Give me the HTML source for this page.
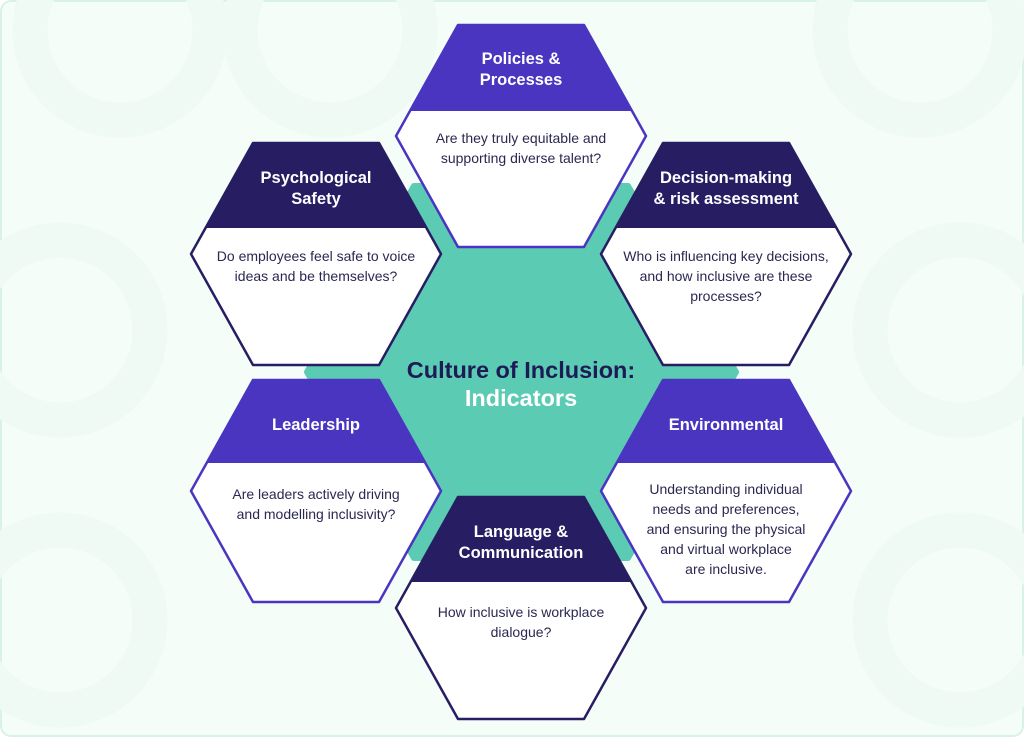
<!DOCTYPE html>
<html><head><meta charset="utf-8"><style>
html,body{margin:0;padding:0;background:#fff;}
svg{display:block;}
text{font-family:"Liberation Sans",sans-serif;}
.h{fill:#fff;font-weight:bold;font-size:16.5px;text-anchor:middle;}
.b{fill:#2a2850;font-size:14px;text-anchor:middle;}
</style></head><body>
<svg width="1024" height="737" viewBox="0 0 1024 737" xmlns="http://www.w3.org/2000/svg">
<rect x="1" y="1" width="1022" height="735" rx="10" fill="#f5fdf8" stroke="#d9f2e8" stroke-width="2"/>
<g fill="none" stroke="#eefaf3" stroke-width="35">
<circle cx="120" cy="30" r="90"/><circle cx="330" cy="30" r="90"/><circle cx="920" cy="30" r="90"/>
<circle cx="60" cy="330" r="90"/><circle cx="960" cy="330" r="90"/><circle cx="60" cy="620" r="90"/><circle cx="960" cy="620" r="90"/>
</g>
<path d="M307,372 L414,186 L628,186 L736,372 L628,558 L414,558 Z" fill="#5ccbb3" stroke="#5ccbb3" stroke-width="6" stroke-linejoin="round"/>
<text x="521" y="378" style="font-weight:bold;font-size:23.5px;fill:#1d1a55;text-anchor:middle">Culture of Inclusion:</text>
<text x="521" y="406" style="font-weight:bold;font-size:23.5px;fill:#fff;text-anchor:middle">Indicators</text>

<clipPath id="c"><path d="M-63,-111 L63,-111 L125,0 L63,111 L-63,111 L-125,0 Z"/></clipPath>

<g transform="translate(521,136)">
<path d="M-63,-111 L63,-111 L125,0 L63,111 L-63,111 L-125,0 Z" fill="#fff"/>
<rect x="-130" y="-115" width="260" height="90" fill="#4a35c0" clip-path="url(#c)"/>
<path d="M-63,-111 L63,-111 L125,0 L63,111 L-63,111 L-125,0 Z" fill="none" stroke="#4a35c0" stroke-width="2.5" stroke-linejoin="round"/>
<text class="h" y="-72">Policies &amp;</text><text class="h" y="-51">Processes</text>
<text class="b" y="7">Are they truly equitable and</text><text class="b" y="27">supporting diverse talent?</text>
</g>

<g transform="translate(316,254)">
<path d="M-63,-111 L63,-111 L125,0 L63,111 L-63,111 L-125,0 Z" fill="#fff"/>
<rect x="-130" y="-115" width="260" height="89" fill="#271d63" clip-path="url(#c)"/>
<path d="M-63,-111 L63,-111 L125,0 L63,111 L-63,111 L-125,0 Z" fill="none" stroke="#271d63" stroke-width="2.5" stroke-linejoin="round"/>
<text class="h" y="-71">Psychological</text><text class="h" y="-50">Safety</text>
<text class="b" y="7">Do employees feel safe to voice</text><text class="b" y="27">ideas and be themselves?</text>
</g>

<g transform="translate(726,254)">
<path d="M-63,-111 L63,-111 L125,0 L63,111 L-63,111 L-125,0 Z" fill="#fff"/>
<rect x="-130" y="-115" width="260" height="89" fill="#271d63" clip-path="url(#c)"/>
<path d="M-63,-111 L63,-111 L125,0 L63,111 L-63,111 L-125,0 Z" fill="none" stroke="#271d63" stroke-width="2.5" stroke-linejoin="round"/>
<text class="h" y="-71">Decision-making</text><text class="h" y="-50">&amp; risk assessment</text>
<text class="b" y="7">Who is influencing key decisions,</text><text class="b" y="27">and how inclusive are these</text><text class="b" y="47">processes?</text>
</g>

<g transform="translate(316,491)">
<path d="M-63,-111 L63,-111 L125,0 L63,111 L-63,111 L-125,0 Z" fill="#fff"/>
<rect x="-130" y="-115" width="260" height="87" fill="#4a35c0" clip-path="url(#c)"/>
<path d="M-63,-111 L63,-111 L125,0 L63,111 L-63,111 L-125,0 Z" fill="none" stroke="#4a35c0" stroke-width="2.5" stroke-linejoin="round"/>
<text class="h" y="-61">Leadership</text>
<text class="b" y="8">Are leaders actively driving</text><text class="b" y="28">and modelling inclusivity?</text>
</g>

<g transform="translate(726,491)">
<path d="M-63,-111 L63,-111 L125,0 L63,111 L-63,111 L-125,0 Z" fill="#fff"/>
<rect x="-130" y="-115" width="260" height="87" fill="#4a35c0" clip-path="url(#c)"/>
<path d="M-63,-111 L63,-111 L125,0 L63,111 L-63,111 L-125,0 Z" fill="none" stroke="#4a35c0" stroke-width="2.5" stroke-linejoin="round"/>
<text class="h" y="-61">Environmental</text>
<text class="b" y="3">Understanding individual</text><text class="b" y="23">needs and preferences,</text><text class="b" y="43">and ensuring the physical</text><text class="b" y="63">and virtual workplace</text><text class="b" y="83">are inclusive.</text>
</g>

<g transform="translate(521,608)">
<path d="M-63,-111 L63,-111 L125,0 L63,111 L-63,111 L-125,0 Z" fill="#fff"/>
<rect x="-130" y="-115" width="260" height="89" fill="#271d63" clip-path="url(#c)"/>
<path d="M-63,-111 L63,-111 L125,0 L63,111 L-63,111 L-125,0 Z" fill="none" stroke="#271d63" stroke-width="2.5" stroke-linejoin="round"/>
<text class="h" y="-71">Language &amp;</text><text class="h" y="-50">Communication</text>
<text class="b" y="9">How inclusive is workplace</text><text class="b" y="29">dialogue?</text>
</g>
</svg>
</body></html>
